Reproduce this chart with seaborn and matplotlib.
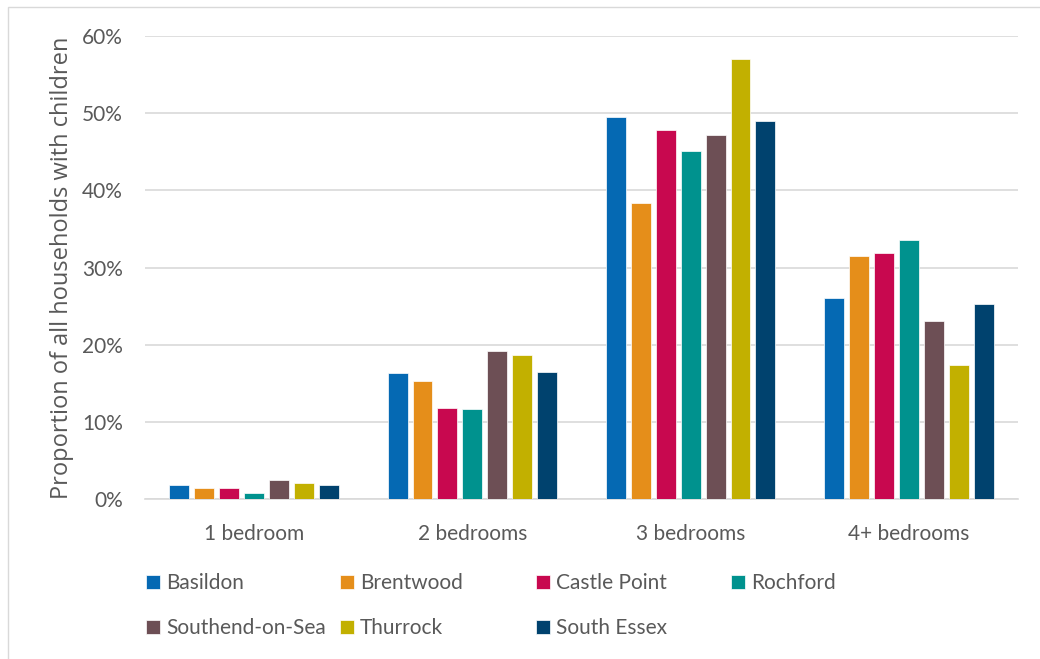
import matplotlib
matplotlib.use("Agg")
import matplotlib.pyplot as plt
from matplotlib.patches import Rectangle
from matplotlib.ticker import PercentFormatter
import pandas as pd
import seaborn as sns

# Data (percent of households with children)
bedrooms = ['1 bedroom', '2 bedrooms', '3 bedrooms', '4+ bedrooms']
areas = ['Basildon', 'Brentwood', 'Castle Point', 'Rochford',
         'Southend-on-Sea', 'Thurrock', 'South Essex']
basildon = [1.8, 16.3, 49.5, 26.1]
brentwood = [1.4, 15.3, 38.4, 31.5]
castle_point = [1.4, 11.8, 47.8, 31.9]
rochford = [0.8, 11.6, 45.1, 33.5]
southend = [2.4, 19.2, 47.2, 23.1]
thurrock = [2.1, 18.6, 57.0, 17.4]
south_essex = [1.8, 16.5, 49.0, 25.3]
colors = ['#0569B3', '#E58E1A', '#C8084F', '#00928E',
          '#6D4F55', '#C2B000', '#00426E']

series = [basildon, brentwood, castle_point, rochford, southend, thurrock, south_essex]
rows = []
for area, vals in zip(areas, series):
    for bed, v in zip(bedrooms, vals):
        rows.append({'Bedrooms': bed, 'Area': area, 'Share': v})
df = pd.DataFrame(rows)

sns.set_style('white')
plt.rcParams['font.family'] = ['Lato', 'DejaVu Sans']
text_col = '#595959'
W, H = 1040, 659

fig = plt.figure(figsize=(W / 100, H / 100), dpi=100)
ax = fig.add_axes([145 / W, 1 - 499 / H, 873 / W, (499 - 36) / H])

sns.barplot(data=df, x='Bedrooms', y='Share', hue='Area', hue_order=areas,
            palette=colors, saturation=1, width=0.8, gap=0.2,
            edgecolor='white', linewidth=0.5, ax=ax, zorder=3)

ax.set_ylim(0, 60)
ax.set_yticks(range(0, 61, 10))
ax.yaxis.set_major_formatter(PercentFormatter(decimals=0))
ax.grid(axis='y', color='#D9D9D9', linewidth=1.2, zorder=0)
ax.set_axisbelow(True)
for s in ['top', 'right', 'left']:
    ax.spines[s].set_visible(False)
ax.spines['bottom'].set_color('#D9D9D9')
ax.spines['bottom'].set_linewidth(1.2)
ax.tick_params(axis='both', length=0, labelsize=15, labelcolor=text_col)
ax.tick_params(axis='x', pad=18)
ax.tick_params(axis='y', pad=16)
ax.set_xlabel('')
ax.set_ylabel('Proportion of all households with children', fontsize=17,
              color=text_col, family=['Open Sans', 'DejaVu Sans'])
ax.yaxis.set_label_coords(-(145 - 74) / 873, 0.5)

# legend laid out in a fixed grid like the original
handles, labels = ax.get_legend_handles_labels()
ax.get_legend().remove()
spots = [(146, 583), (340, 583), (536, 583), (731, 583),
         (146, 628), (340, 628), (536, 628)]
for h, l, (x, y) in zip(handles, labels, spots):
    fig.legend([h], [l], loc='center left', bbox_to_anchor=(x / W, 1 - y / H),
               frameon=False, fontsize=15, labelcolor=text_col,
               handlelength=0.65, handleheight=0.65, handletextpad=0.3,
               borderpad=0, borderaxespad=0)

# thin outer frame of the chart area
fig.patches.append(Rectangle((8 / W, -0.05), 1.1, 1.05 - 7 / H,
                             transform=fig.transFigure, fill=False,
                             edgecolor='#D9D9D9', linewidth=1))

fig.savefig('out.png', dpi=100)
